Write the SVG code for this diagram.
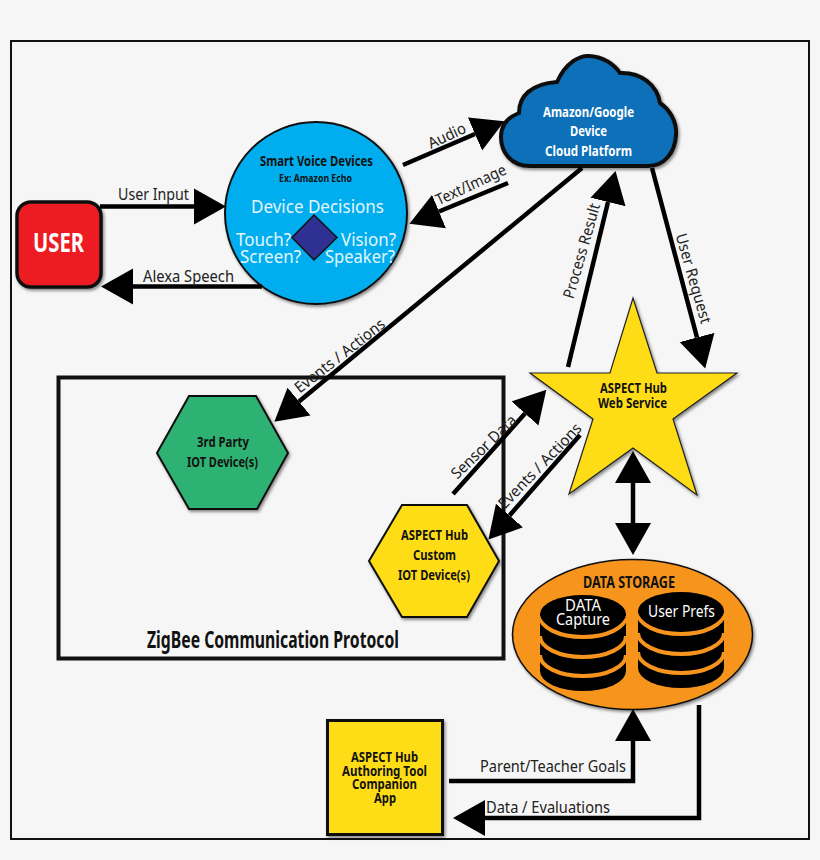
<svg xmlns="http://www.w3.org/2000/svg" width="820" height="860" viewBox="0 0 820 860">
<style>
text{font-family:"Noto Sans","Open Sans","Liberation Sans",sans-serif}
.lb{font-size:15.5px;fill:#222}
.b{font-weight:700;fill:#111;text-anchor:start}
.w{fill:#fff}
.dd{font-size:18px;fill:#e4f6fd}
.sh{filter:url(#ds)}
.o{stroke:#111;stroke-width:2}
.c{fill:none;stroke:#000;stroke-width:4.5;marker-end:url(#ah)}
.band{fill:none;stroke:#f7941d;stroke-width:4}
</style>
<defs>
<filter id="ds" x="-10%" y="-10%" width="125%" height="125%"><feDropShadow dx="1.5" dy="2" stdDeviation="1.5" flood-color="#000" flood-opacity=".45"/></filter>
<marker id="ah" markerUnits="userSpaceOnUse" markerWidth="33" markerHeight="37" refX="0" refY="18" orient="auto-start-reverse" viewBox="0 0 33 36"><path d="M0,0L32,18L0,36z" fill="#000"/></marker>
<g id="stack"><path d="M-43,0V57A43,20 0 0 0 43,57V0z" fill="#000"/><path class="band" d="M-43,2A43,21 0 0 0 43,2M-43,22A43,21 0 0 0 43,22M-43,41A43,21 0 0 0 43,41"/><ellipse rx="43" ry="19" fill="#000"/></g>
</defs>
<rect width="820" height="860" fill="#f6f6f6"/>
<rect id="frame" x="11" y="41" width="798" height="798" fill="none" stroke="#111" stroke-width="2"/>

<g id="zigbee">
<rect x="58.500" y="377.500" width="445" height="281" fill="none" stroke="#111" stroke-width="4"/>
<text class="b" x="147" y="648" font-size="23" textLength="252" lengthAdjust="spacingAndGlyphs">ZigBee Communication Protocol</text>
</g>

<g id="user">
<rect class="sh" x="17" y="202" width="84" height="85" rx="14" fill="#ed1c24" stroke="#111" stroke-width="3.500"/>
<text class="b w" x="33" y="252" font-size="27" textLength="51" lengthAdjust="spacingAndGlyphs">USER</text>
</g>

<g id="voice">
<circle class="sh o" cx="316" cy="213" r="91" fill="#00aeef"/>
<text class="b" x="260" y="166" font-size="15" textLength="113" lengthAdjust="spacingAndGlyphs">Smart Voice Devices</text>
<text class="b" x="279" y="182" font-size="11" textLength="73" lengthAdjust="spacingAndGlyphs">Ex: Amazon Echo</text>
<text class="dd" x="251" y="213" textLength="133" lengthAdjust="spacingAndGlyphs">Device Decisions</text>
<path d="M314,215L337,237.500L314,260L292,237.500z" fill="#2e3192" stroke="#111" stroke-width="1.500"/>
<text class="dd" x="236" y="246" textLength="55" lengthAdjust="spacingAndGlyphs">Touch?</text>
<text class="dd" x="341" y="246" textLength="55" lengthAdjust="spacingAndGlyphs">Vision?</text>
<text class="dd" x="240" y="263" textLength="61" lengthAdjust="spacingAndGlyphs">Screen?</text>
<text class="dd" x="325" y="263" textLength="70" lengthAdjust="spacingAndGlyphs">Speaker?</text>
</g>

<g id="cloud">
<path class="sh" d="M530,166C511,166 501,152 501,137C501,124 509,117 519,113C519,96 531,84 557,82C566,62 580,55 590,56C603,57 614,64 620,73C641,72 657,85 660,103C670,110 677,122 676,135C675,153 664,166 648,166z" fill="#0f70b9" stroke="#111" stroke-width="4"/>
<text class="b w" x="543" y="117" font-size="14.500" textLength="91" lengthAdjust="spacingAndGlyphs">Amazon/Google</text>
<text class="b w" x="570" y="136" font-size="14.500" textLength="37" lengthAdjust="spacingAndGlyphs">Device</text>
<text class="b w" x="545" y="156" font-size="14.500" textLength="87" lengthAdjust="spacingAndGlyphs">Cloud Platform</text>
</g>

<g id="hub">
<path class="sh" d="M633,298L657,373H737L673,419L697,495L633,448L569,494L593,419L530,373H610z" fill="#ffdd15" stroke="#222" stroke-width="1.200"/>
<text class="b" x="600" y="393" font-size="15" textLength="67" lengthAdjust="spacingAndGlyphs">ASPECT Hub</text>
<text class="b" x="598" y="408" font-size="15" textLength="69" lengthAdjust="spacingAndGlyphs">Web Service</text>
</g>

<g id="third-party">
<path class="sh o" d="M157,453L189,396H256L288,453L257,509H189z" fill="#2fb273"/>
<text class="b" x="197" y="447" font-size="14.500" textLength="52" lengthAdjust="spacingAndGlyphs">3rd Party</text>
<text class="b" x="187" y="467" font-size="14.500" textLength="71" lengthAdjust="spacingAndGlyphs">IOT Device(s)</text>
</g>

<g id="custom">
<path class="sh o" d="M369,561L402,505H467L499,561L467,617H402z" fill="#ffdd15"/>
<text class="b" x="401" y="540" font-size="14.500" textLength="67" lengthAdjust="spacingAndGlyphs">ASPECT Hub</text>
<text class="b" x="413" y="560" font-size="14.500" textLength="43" lengthAdjust="spacingAndGlyphs">Custom</text>
<text class="b" x="398" y="580" font-size="14.500" textLength="72" lengthAdjust="spacingAndGlyphs">IOT Device(s)</text>
</g>

<g id="storage">
<ellipse class="sh" cx="632.500" cy="634.500" rx="120" ry="75" fill="#f7941d" stroke="#111" stroke-width="1.500"/>
<text class="b" x="583" y="588" font-size="16" textLength="92" lengthAdjust="spacingAndGlyphs">DATA STORAGE</text>
<use href="#stack" x="583" y="614"/>
<use href="#stack" x="681" y="611"/>
<text class="w" x="565" y="611" font-size="15.500" textLength="36" lengthAdjust="spacingAndGlyphs">DATA</text>
<text class="w" x="556" y="625" font-size="15.500" textLength="54" lengthAdjust="spacingAndGlyphs">Capture</text>
<text class="w" x="648" y="617" font-size="15.500" textLength="67" lengthAdjust="spacingAndGlyphs">User Prefs</text>
</g>

<g id="app">
<rect class="sh" x="327.500" y="720.500" width="115" height="114" fill="#ffdd15" stroke="#111" stroke-width="3"/>
<text class="b" x="351" y="762" font-size="14.500" textLength="67" lengthAdjust="spacingAndGlyphs">ASPECT Hub</text>
<text class="b" x="342" y="776" font-size="14.500" textLength="85" lengthAdjust="spacingAndGlyphs">Authoring Tool</text>
<text class="b" x="352" y="789" font-size="14.500" textLength="65" lengthAdjust="spacingAndGlyphs">Companion</text>
<text class="b" x="374" y="803" font-size="14.500" textLength="22" lengthAdjust="spacingAndGlyphs">App</text>
</g>

<g id="connectors">
<path class="c" d="M100,206.500H194"/>
<path class="c" d="M262,286.500H133"/>
<path class="c" d="M403,165L475,134"/>
<path class="c" d="M508,183L439,211.500"/>
<path class="c" d="M582,168L299,401.500"/>
<path class="c" d="M568,367L608,202"/>
<path class="c" d="M652,168L697,337.500"/>
<path class="c" d="M453,494L525,413.500"/>
<path class="c" d="M580,435L509.500,515.500"/>
<path class="c" d="M633,483V523" style="marker-start:url(#ah)"/>
<path class="c" d="M449,781H633V741"/>
<path class="c" d="M699,705V818H485"/>
<g class="lb">
<text x="118" y="200" textLength="71" lengthAdjust="spacingAndGlyphs">User Input</text>
<text x="143" y="282" textLength="91" lengthAdjust="spacingAndGlyphs">Alexa Speech</text>
<text x="-20" y="5" textLength="40" lengthAdjust="spacingAndGlyphs" transform="translate(447,136) rotate(-25)">Audio</text>
<text x="-38" y="5" textLength="76" lengthAdjust="spacingAndGlyphs" transform="translate(471,185) rotate(-25)">Text/Image</text>
<text x="-55" y="5" textLength="110" lengthAdjust="spacingAndGlyphs" transform="translate(340,356) rotate(-38)">Events / Actions</text>
<text x="-49" y="5" textLength="98" lengthAdjust="spacingAndGlyphs" transform="translate(582,251) rotate(-74)">Process Result</text>
<text x="-46" y="5" textLength="93" lengthAdjust="spacingAndGlyphs" transform="translate(693,278) rotate(74)">User Request</text>
<text x="-42" y="5" textLength="84" lengthAdjust="spacingAndGlyphs" transform="translate(484,447) rotate(-44)">Sensor Data</text>
<text x="-56" y="5" textLength="112" lengthAdjust="spacingAndGlyphs" transform="translate(540,466) rotate(-46)">Events / Actions</text>
<text x="480" y="772" textLength="146" lengthAdjust="spacingAndGlyphs">Parent/Teacher Goals</text>
<text x="486" y="813" textLength="124" lengthAdjust="spacingAndGlyphs">Data / Evaluations</text>
</g>
</g>
</svg>
